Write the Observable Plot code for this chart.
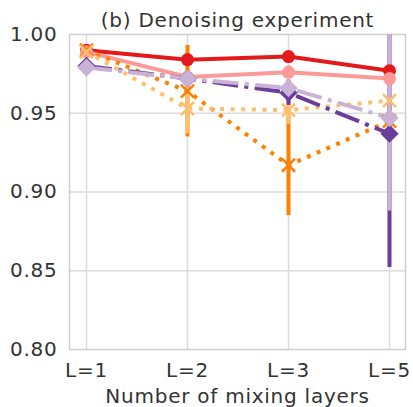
<!DOCTYPE html>
<html><head><meta charset="utf-8">
<script src="https://cdn.jsdelivr.net/npm/d3@7"></script>
<script src="https://cdn.jsdelivr.net/npm/@observablehq/plot@0.6"></script>
<style>body{margin:0;background:#fff}</style>
</head><body><div id="chart"></div>
<script>
const layers = ["L=1", "L=2", "L=3", "L=5"];
const yTicks = [0.80, 0.85, 0.90, 0.95, 1.00];
const titleText = "(b) Denoising experiment";
const xLabel = "Number of mixing layers";

const seriesNames = ["red", "pink", "darkOrange", "lightOrange", "darkPurple", "lightPurple"];
const seriesColors = ["#e31a1c", "#fb9a99", "#ff7f00", "#fdbf6f", "#6a3d9a", "#cab2d6"];
const seriesDash = ["none", "none", "dot", "dot", "dashdot", "dashdot"];
const seriesSymbol = ["circle", "circle", "times", "times", "diamond", "diamond"];

const redMean = [0.990, 0.984, 0.986, 0.977];
const redErr = [0.002, 0.004, 0.003, 0.004];
const pinkMean = [0.989, 0.973, 0.976, 0.972];
const pinkErr = [0.002, 0.004, 0.004, 0.005];
const darkOrangeMean = [0.990, 0.964, 0.917, 0.945];
const darkOrangeErr = [0.003, 0.029, 0.032, 0.010];
const lightOrangeMean = [0.989, 0.953, 0.952, 0.958];
const lightOrangeErr = [0.003, 0.016, 0.009, 0.006];
const darkPurpleMean = [0.980, 0.972, 0.963, 0.937];
const darkPurpleErr = [0.003, 0.004, 0.008, 0.085];
const lightPurpleMean = [0.979, 0.972, 0.966, 0.947];
const lightPurpleErr = [0.003, 0.004, 0.005, 0.059];

const means = [redMean, pinkMean, darkOrangeMean, lightOrangeMean, darkPurpleMean, lightPurpleMean];
const errs = [redErr, pinkErr, darkOrangeErr, lightOrangeErr, darkPurpleErr, lightPurpleErr];

const rows = [];
seriesNames.forEach((s, i) => layers.forEach((l, j) => rows.push({
  series: s, idx: i, layer: l, value: means[i][j], lo: means[i][j] - errs[i][j], hi: means[i][j] + errs[i][j]
})));

const LW = 4;
const dashFor = d => d === "dot" ? `${LW},${1.65*LW}` : d === "dashdot" ? `${6.4*LW},${1.6*LW},${1*LW},${1.6*LW}` : null;

const diamond = {
  draw(ctx, size) {
    const side = Math.sqrt(size);
    const s = side / Math.SQRT2;
    ctx.moveTo(0, -s); ctx.lineTo(s, 0); ctx.lineTo(0, s); ctx.lineTo(-s, 0); ctx.closePath();
  }
};

const marks = [
  Plot.gridX(layers, {stroke: "#dcdcdc", strokeOpacity: 1, strokeWidth: 1.5}),
  Plot.gridY([0.85, 0.90, 0.95], {stroke: "#dcdcdc", strokeOpacity: 1, strokeWidth: 1.5}),
  Plot.frame({stroke: "#cfcfcf", strokeWidth: 1.5}),
];
// error bars
seriesNames.forEach((s, i) => {
  marks.push(Plot.ruleX(rows.filter(d => d.idx === i), {x: "layer", y1: "lo", y2: "hi", stroke: seriesColors[i], strokeWidth: 4, clip: true}));
});
// lines
seriesNames.forEach((s, i) => {
  const o = {x: "layer", y: "value", stroke: seriesColors[i], strokeWidth: LW, strokeLinecap: "butt"};
  const da = dashFor(seriesDash[i]);
  if (da) o.strokeDasharray = da;
  marks.push(Plot.line(rows.filter(d => d.idx === i), o));
});
// markers
seriesNames.forEach((s, i) => {
  const data = rows.filter(d => d.idx === i);
  const sym = seriesSymbol[i];
  if (sym === "circle") marks.push(Plot.dot(data, {x: "layer", y: "value", r: 6.5, fill: seriesColors[i], stroke: "none"}));
  else if (sym === "diamond") marks.push(Plot.dot(data, {x: "layer", y: "value", r: 7.3, symbol: diamond, fill: seriesColors[i], stroke: "none"}));
  else marks.push(Plot.dot(data, {x: "layer", y: "value", r: 6, symbol: "times", fill: "none", stroke: seriesColors[i], strokeWidth: 2.5}));
});
marks.push(
  Plot.axisY(yTicks, {tickSize: 0, tickPadding: 12, tickFormat: d3.format(".2f"), label: null, fontSize: 20}),
  Plot.axisX({tickSize: 0, tickPadding: 13, label: null, fontSize: 20}),
  Plot.text([titleText], {frameAnchor: "top", lineAnchor: "middle", dy: -13.7, fontSize: 20}),
  Plot.text([xLabel], {frameAnchor: "bottom", lineAnchor: "middle", dy: 46.6, fontSize: 20})
);

const chart = Plot.plot({
  width: 413, height: 407,
  marginLeft: 69, marginRight: 8, marginTop: 34, marginBottom: 58,
  style: {fontFamily: "DejaVu Sans", color: "#333", background: "#fff", letterSpacing: "0.75px"},
  x: {type: "point", domain: layers, inset: 16, padding: 0},
  y: {domain: [0.80, 1.00]},
  marks
});
document.getElementById("chart").append(chart);
</script>
</body></html>
